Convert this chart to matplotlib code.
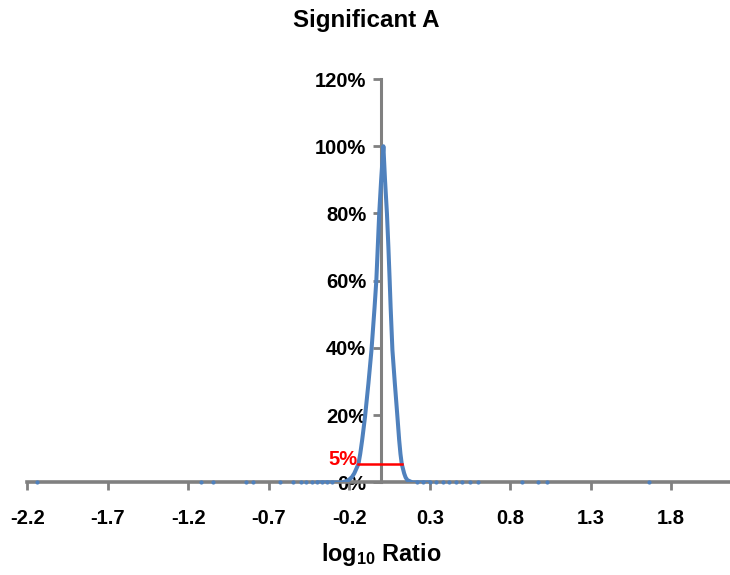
import matplotlib
matplotlib.use("Agg")
import matplotlib.pyplot as plt

plt.rcParams['font.family'] = ['Liberation Sans', 'DejaVu Sans']
plt.rcParams['mathtext.fontset'] = 'custom'
plt.rcParams['mathtext.rm'] = 'Liberation Sans:bold'
plt.rcParams['mathtext.bf'] = 'Liberation Sans:bold'
plt.rcParams['mathtext.it'] = 'Liberation Sans:bold'

# distribution curve (log10 ratio vs % of max)
curve_x = [-0.40, -0.30, -0.242, -0.205, -0.185, -0.169, -0.143, -0.132,
           -0.120, -0.102, -0.081, -0.062, -0.043, -0.032, -0.023, -0.014,
           -0.002, 0.012, 0.022, 0.034, 0.043, 0.051, 0.057, 0.068, 0.083,
           0.099, 0.110, 0.118, 0.126, 0.141, 0.150, 0.161, 0.193, 0.25, 0.30]
curve_y = [0, 0, 0, 0.7, 1.5, 2.7, 5.5, 8.5, 12.6, 19.6, 29.5, 39.4, 52, 60,
           70, 80, 90, 100, 90, 80, 70, 60, 52, 39.4, 29.5, 19.6, 12.6, 8.5,
           5.5, 2.7, 1.5, 0.7, 0, 0, 0]

# isolated points lying on the baseline
outlier_x = [-2.14, -1.12, -1.045, -0.84, -0.80, -0.63, -0.55, -0.50, -0.47,
             -0.43, -0.40, -0.37, -0.34, -0.31, 0.22, 0.26, 0.30, 0.34, 0.38,
             0.42, 0.46, 0.50, 0.55, 0.60, 0.87, 0.97, 1.03, 1.66]
outlier_y = [0] * len(outlier_x)

# 5% threshold marker
thresh_x = [-0.143, 0.126]
thresh_y = [5.5, 5.5]

xticks = [-2.2, -1.7, -1.2, -0.7, -0.2, 0.3, 0.8, 1.3, 1.8]
yticks = [0, 20, 40, 60, 80, 100, 120]

blue = '#4F81BD'
grey = '#808080'

fig = plt.figure(figsize=(7.3, 5.75), dpi=100)
ax = fig.add_axes([0.0374, 0.1609, 0.9626, 0.7017])

ax.plot(curve_x, curve_y, color=blue, linewidth=2.9, solid_joinstyle='round',
        solid_capstyle='round', zorder=3)
ax.plot(outlier_x, outlier_y, linestyle='none', marker='o', markersize=2,
        color=blue, clip_on=False, zorder=4)
ax.plot(thresh_x, thresh_y, color='red', linewidth=1.8, zorder=5)
ax.text(-0.150, 6.7, '5%', color='red', fontsize=14.5, fontweight='bold',
        ha='right', va='center')

ax.set_xlim(-2.2, 2.165)
ax.set_ylim(0, 120)

for s in ['top', 'right']:
    ax.spines[s].set_visible(False)
ax.spines['left'].set_position(('data', 0))
ax.spines['left'].set_color(grey)
ax.spines['left'].set_linewidth(2.2)
ax.spines['bottom'].set_color(grey)
ax.spines['bottom'].set_linewidth(2.6)
ax.spines['left'].set_zorder(1)

ax.set_xticks(xticks)
ax.set_xticklabels([f'{t:.1f}' for t in xticks])
ax.set_yticks(yticks)
ax.set_yticklabels([f'{t}%' for t in yticks])
ax.tick_params(axis='x', direction='out', length=6, width=2, color=grey,
               pad=13, labelsize=14.5)
ax.tick_params(axis='y', direction='out', length=6, width=2, color=grey,
               pad=5, labelsize=14.5)
for lbl in ax.get_xticklabels() + ax.get_yticklabels():
    lbl.set_fontweight('bold')

fig.text(0.502, 0.965, 'Significant A', fontsize=17.4, fontweight='bold',
         ha='center', va='center')
fig.text(0.523, 0.036, r'$\mathrm{log_{10}}$ Ratio', fontsize=16.9,
         fontweight='bold', ha='center', va='center')

fig.savefig('out.png', dpi=100)
